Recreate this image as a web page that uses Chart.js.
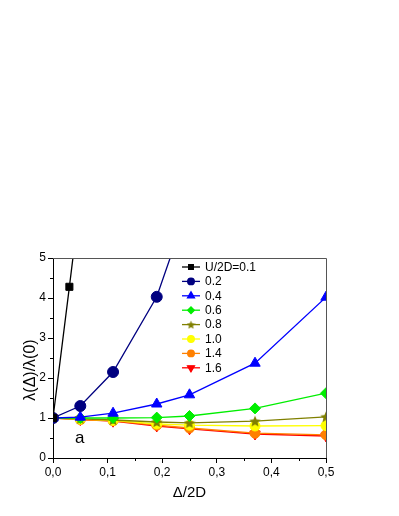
<!DOCTYPE html>
<html>
<head>
<meta charset="utf-8">
<script src="https://cdn.jsdelivr.net/npm/chart.js@4"></script>
<style>
  html, body { margin: 0; padding: 0; background: #fff; }
  #wrap { width: 399px; height: 516px; position: relative; }
</style>
</head>
<body>
<div id="wrap"><canvas id="c"></canvas></div>
<script>
/* lambda(Delta)/lambda(0) vs Delta/2D for several U/2D values */
const xs = [0, 0.05, 0.11, 0.19, 0.25, 0.37, 0.5];
const labels = ['U/2D=0.1', '0.2', '0.4', '0.6', '0.8', '1.0', '1.4', '1.6'];

const u01 = [[0, 1], [0.03, 4.28], [0.05, 6.5]];
const u02 = [[0, 1], [0.05, 1.3], [0.11, 2.15], [0.19, 4.03], [0.25, 6.4]];
const u04 = [1, 1.02, 1.12, 1.35, 1.58, 2.37, 4.02];
const u06 = [1, 1.0, 1.0, 1.01, 1.05, 1.24, 1.62];
const u08 = [1, 0.98, 0.95, 0.9, 0.88, 0.92, 1.03];
const u10 = [1, 0.97, 0.94, 0.85, 0.82, 0.8, 0.81];
const u14 = [1, 0.96, 0.93, 0.82, 0.75, 0.62, 0.58];
const u16 = [1, 0.96, 0.92, 0.8, 0.73, 0.6, 0.55];

const colors = ['#000000', '#000080', '#0000ff', '#00ee00', '#808000', '#ffff00', '#ff8000', '#ff0000'];

function starImage(size, color) {
  const cv = document.createElement('canvas');
  cv.width = size; cv.height = size;
  const g = cv.getContext('2d');
  const r = size / 2, ri = r * 0.45;
  g.beginPath();
  for (let i = 0; i < 10; i++) {
    const a = -Math.PI / 2 + i * Math.PI / 5;
    const rr = i % 2 ? ri : r;
    g.lineTo(r + rr * Math.cos(a), r + 0.5 + rr * Math.sin(a));
  }
  g.closePath();
  g.fillStyle = color;
  g.fill();
  return cv;
}
const star = starImage(12, colors[4]);
const starSmall = starImage(9, colors[4]);

const pair = (arr) => arr.map(([x, y]) => ({ x, y }));
const onXs = (arr) => arr.map((y, i) => ({ x: xs[i], y }));

const styles = [
  { pointStyle: 'rect', pointRadius: 5 },
  { pointStyle: 'circle', pointRadius: 5.5 },
  { pointStyle: 'triangle', pointRadius: 6 },
  { pointStyle: 'rectRot', pointRadius: 5.5 },
  { pointStyle: star, pointRadius: 5 },
  { pointStyle: 'circle', pointRadius: 5 },
  { pointStyle: 'circle', pointRadius: 5 },
  { pointStyle: 'triangle', pointRadius: 6, pointRotation: 180 },
];
const series = [pair(u01), pair(u02), onXs(u04), onXs(u06), onXs(u08), onXs(u10), onXs(u14), onXs(u16)];

const datasets = series.map((data, i) => Object.assign({
  label: labels[i],
  data,
  borderColor: colors[i],
  backgroundColor: colors[i],
  borderWidth: 1.3,
  pointBorderWidth: 1,
  pointHoverRadius: 5,
}, styles[i]));

const fontFam = '"Liberation Sans", Arial, sans-serif';

// frame, minor ticks, legend, y title and the "a" panel label
const extras = {
  id: 'extras',
  afterDraw(chart) {
    const { ctx, chartArea: a, scales: { x, y } } = chart;
    ctx.save();
    ctx.strokeStyle = '#555';
    ctx.lineWidth = 1;
    ctx.beginPath();
    ctx.moveTo(a.left, a.top + 0.5); ctx.lineTo(a.right + 0.5, a.top + 0.5);
    ctx.lineTo(a.right + 0.5, a.bottom);
    ctx.stroke();

    ctx.strokeStyle = '#000';
    ctx.beginPath();
    for (let v = 0.05; v < 0.5; v += 0.1) {
      const px = Math.round(x.getPixelForValue(v)) + 0.5;
      ctx.moveTo(px, a.bottom); ctx.lineTo(px, a.bottom + 3);
    }
    for (let v = 0.5; v < 5; v += 1) {
      const py = Math.round(y.getPixelForValue(v)) + 0.5;
      ctx.moveTo(a.left, py); ctx.lineTo(a.left - 3, py);
    }
    ctx.stroke();

    // legend
    ctx.font = '12px ' + fontFam;
    ctx.textBaseline = 'middle';
    chart.data.datasets.forEach((ds, i) => {
      const ly = 267 + i * 14.4;
      ctx.strokeStyle = ds.borderColor;
      ctx.lineWidth = 1.3;
      ctx.beginPath(); ctx.moveTo(182, ly); ctx.lineTo(200, ly); ctx.stroke();
      ctx.fillStyle = ds.backgroundColor;
      if (ds.pointStyle === star) {
        ctx.drawImage(starSmall, 191 - 4.5, ly - 4.5);
      } else if (Chart.helpers && Chart.helpers.drawPoint) {
        Chart.helpers.drawPoint(ctx, {
          pointStyle: ds.pointStyle, radius: ds.pointStyle === 'triangle' ? 4 : 3.3,
          rotation: ds.pointRotation || 0, borderWidth: 1,
        }, 191, ly);
        ctx.fill();
      }
      ctx.fillStyle = '#000';
      ctx.fillText(ds.label, 205, ly + 0.5);
    });

    ctx.fillStyle = '#000';
    ctx.font = '17px ' + fontFam;
    ctx.textAlign = 'left';
    ctx.fillText('a', 75, y.getPixelForValue(0.5));

    ctx.translate(31, 370);
    ctx.rotate(-Math.PI / 2);
    ctx.font = '16px ' + fontFam;
    ctx.textAlign = 'center';
    ctx.fillText('λ(Δ)/λ(0)', 0, 0);
    ctx.restore();
  },
};

new Chart(document.getElementById('c'), {
  type: 'line',
  data: { datasets },
  options: {
    responsive: true,
    maintainAspectRatio: false,
    animation: false,
    layout: { padding: { top: 258, right: 73, bottom: 14, left: 10 } },
    plugins: { legend: { display: false }, tooltip: { enabled: false } },
    scales: {
      x: {
        type: 'linear', min: 0, max: 0.5,
        afterFit: (s) => { s.height = 44; },
        border: { color: '#000', width: 1 },
        grid: { drawOnChartArea: false, tickLength: 5, color: '#000' },
        ticks: {
          stepSize: 0.1, color: '#000', padding: 2,
          font: { family: fontFam, size: 12 },
          callback: (v) => (Math.round(v * 10) / 10).toFixed(1).replace('.', ','),
        },
        title: { display: true, text: 'Δ/2D', color: '#000', padding: 0, font: { family: fontFam, size: 15 } },
      },
      y: {
        min: 0, max: 5,
        afterFit: (s) => { s.width = 43; },
        border: { color: '#000', width: 1 },
        grid: { drawOnChartArea: false, tickLength: 5, color: '#000' },
        ticks: { stepSize: 1, color: '#000', padding: 2, font: { family: fontFam, size: 12 } },
        title: { display: false },
      },
    },
  },
  plugins: [extras],
});
</script>
</body>
</html>
